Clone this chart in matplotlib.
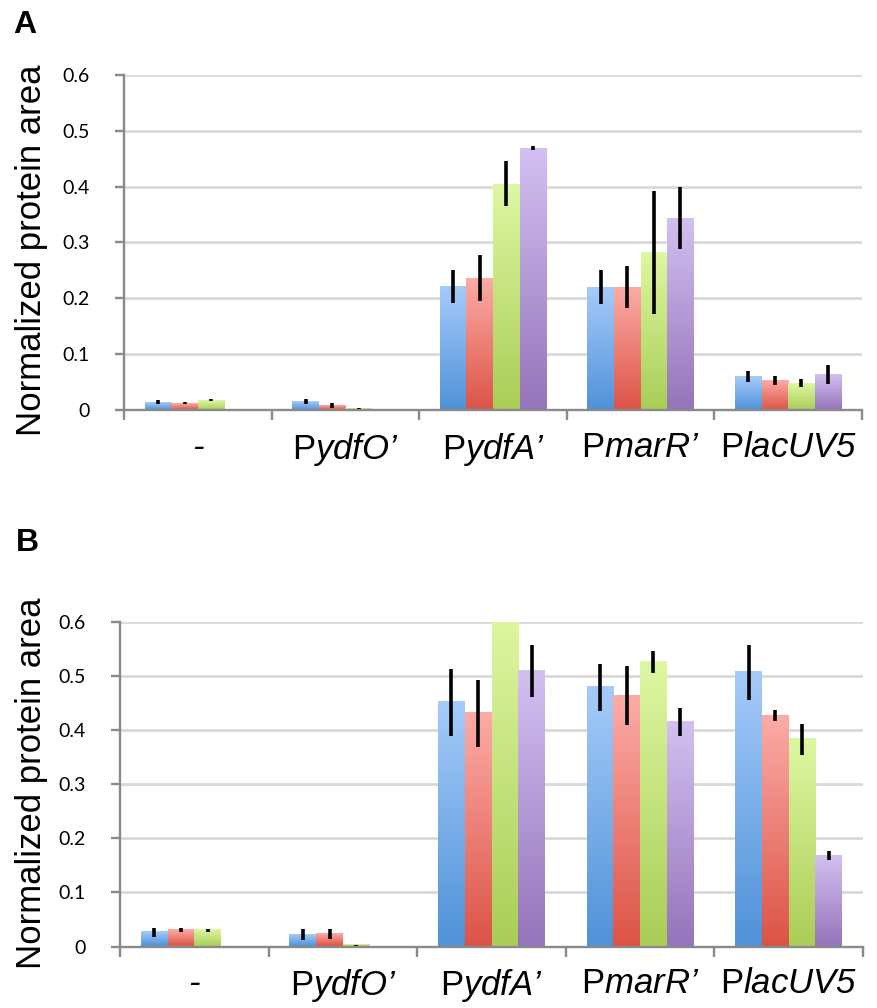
import numpy as np
import matplotlib
matplotlib.use("Agg")
import matplotlib.pyplot as plt
from matplotlib.colors import LinearSegmentedColormap

plt.rcParams['mathtext.fontset'] = 'custom'
plt.rcParams['mathtext.rm'] = 'Liberation Sans'
plt.rcParams['mathtext.it'] = 'Liberation Sans:italic'

# ---------------- data ----------------
# "P" upright (mathtext rm), remainder italic (text style)
categories = ["-", r"$\mathrm{P}$ydfO’", r"$\mathrm{P}$ydfA’", r"$\mathrm{P}$marR’", r"$\mathrm{P}$lacUV5"]
yticks = [0, 0.1, 0.2, 0.3, 0.4, 0.5, 0.6]
ytick_labels = ["0", "0.1", "0.2", "0.3", "0.4", "0.5", "0.6"]

# Panel A (series 1-4 per category)
a_blue   = [0.014, 0.015, 0.221, 0.220, 0.060]
a_red    = [0.012, 0.008, 0.236, 0.220, 0.053]
a_green  = [0.017, 0.003, 0.405, 0.282, 0.048]
a_purple = [np.nan, np.nan, 0.469, 0.344, 0.064]
a_blue_err   = [0.003, 0.004, 0.029, 0.030, 0.010]
a_red_err    = [0.002, 0.004, 0.041, 0.038, 0.008]
a_green_err  = [0.002, 0.001, 0.040, 0.110, 0.008]
a_purple_err = [np.nan, np.nan, 0.003, 0.056, 0.017]

# Panel B
b_blue   = [0.026, 0.022, 0.452, 0.479, 0.507]
b_red    = [0.030, 0.023, 0.431, 0.464, 0.427]
b_green  = [0.030, 0.002, 0.620, 0.526, 0.383]
b_purple = [np.nan, np.nan, 0.509, 0.415, 0.168]
b_blue_err   = [0.008, 0.010, 0.062, 0.043, 0.051]
b_red_err    = [0.004, 0.010, 0.062, 0.054, 0.010]
b_green_err  = [0.0025, 0.001, 0.010, 0.020, 0.028]
b_purple_err = [np.nan, np.nan, 0.048, 0.026, 0.008]

# gradient colours (top, bottom)
grad_colors = [("#a6cbfa", "#4f92d8"),
               ("#fcaca7", "#dc5346"),
               ("#def7a2", "#aacd57"),
               ("#d3c0f1", "#9574ba")]

W, H = 878, 1008
fig = plt.figure(figsize=(W / 100, H / 100), dpi=100)

grid_color = "#d9d9d9"
spine_color = "#8a8a8a"


def draw_panel(ax, series, errs):
    n = len(categories)
    x = np.arange(n) + 0.5
    bw = 0.18
    offsets = (np.arange(4) - 1.5) * bw
    ax.set_xlim(0, n)
    ax.set_ylim(0, 0.6)
    for si, (vals, err) in enumerate(zip(series, errs)):
        vals = np.asarray(vals, dtype=float)
        err = np.asarray(err, dtype=float)
        mask = ~np.isnan(vals)
        bars = ax.bar(x[mask] + offsets[si], vals[mask], width=bw,
                      color="none", edgecolor="none", zorder=2)
        cmap = LinearSegmentedColormap.from_list("g%d" % si, [grad_colors[si][1], grad_colors[si][0]])
        grad = np.linspace(0, 1, 256).reshape(-1, 1)
        for b in bars:
            x0, w, h = b.get_x(), b.get_width(), b.get_height()
            im = ax.imshow(grad, extent=[x0, x0 + w, 0, h], origin="lower",
                           cmap=cmap, aspect="auto", zorder=2, interpolation="bilinear")
            im.set_clip_path(ax.patch)
        ax.errorbar(x[mask] + offsets[si], vals[mask], yerr=err[mask], fmt="none",
                    ecolor="black", elinewidth=2.6, capsize=0, zorder=3)
    ax.set_xlim(0, n)
    ax.set_ylim(0, 0.6)

    # grid and spines
    ax.set_yticks(yticks)
    ax.set_yticklabels(ytick_labels, family="Lato", fontsize=14)
    ax.yaxis.grid(True, color=grid_color, linewidth=2.0)
    ax.set_axisbelow(True)
    for s in ["top", "right"]:
        ax.spines[s].set_visible(False)
    for s in ["left", "bottom"]:
        ax.spines[s].set_color(spine_color)
        ax.spines[s].set_linewidth(1.7)
    ax.tick_params(axis="y", length=6.5, width=1.7, color=spine_color, pad=18)

    ax.set_xticks(np.arange(n + 1))
    ax.set_xticklabels([""] * (n + 1))
    ax.set_xticks(x, minor=True)
    ax.set_xticklabels(categories, minor=True, family="Liberation Sans", fontsize=25,
                       style="italic")
    ax.tick_params(axis="x", which="major", length=7, width=1.7, color=spine_color)
    ax.tick_params(axis="x", which="minor", length=0, pad=15)


axA = fig.add_axes([124 / W, 1 - 409.8 / H, (862 - 124) / W, (409.8 - 75) / H])
draw_panel(axA, [a_blue, a_red, a_green, a_purple],
           [a_blue_err, a_red_err, a_green_err, a_purple_err])

axB = fig.add_axes([120 / W, 1 - 946.5 / H, (863 - 120) / W, (946.5 - 622) / H])
draw_panel(axB, [b_blue, b_red, b_green, b_purple],
           [b_blue_err, b_red_err, b_green_err, b_purple_err])

fig.text(32 / W, 1 - 250 / H, "Normalized protein area", rotation=90, ha="center", va="center",
         family="Liberation Sans", fontsize=25)
fig.text(32 / W, 1 - 783 / H, "Normalized protein area", rotation=90, ha="center", va="center",
         family="Liberation Sans", fontsize=25)

fig.text(13 / W, 1 - 10 / H, "A", ha="left", va="top", family="Liberation Sans",
         fontweight="bold", fontsize=23)
fig.text(16 / W, 1 - 528 / H, "B", ha="left", va="top", family="Liberation Sans",
         fontweight="bold", fontsize=23)

fig.savefig("out.png", dpi=100)
